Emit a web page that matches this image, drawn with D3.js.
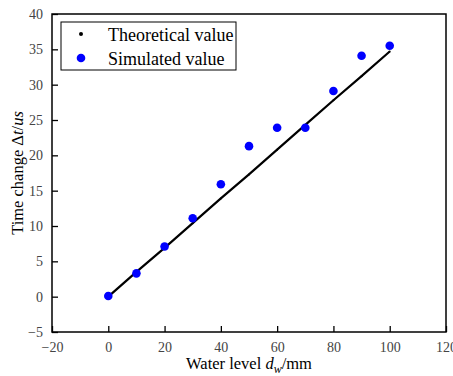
<!DOCTYPE html>
<html>
<head>
<meta charset="utf-8" />
<script src="https://d3js.org/d3.v7.min.js"></script>
<style>
  body { margin: 0; background: #fff; }
  svg text { font-family: "Liberation Serif", "Times New Roman", serif; }
</style>
</head>
<body>
<svg id="chart" width="453" height="376"></svg>
<script>
// water level (mm)
const levels = [0, 10, 20, 30, 40, 50, 60, 70, 80, 90, 100];
// theoretical time change (us)
const theoretical = [0, 3.5, 6.9, 10.4, 13.9, 17.3, 20.8, 24.3, 27.8, 31.2, 34.7];
// simulated time change (us)
const simulated = [0.1, 3.3, 7.1, 11.1, 15.9, 21.3, 23.9, 23.9, 29.1, 34.1, 35.5];

const xTicks = [-20, 0, 20, 40, 60, 80, 100, 120];
const yTicks = [-5, 0, 5, 10, 15, 20, 25, 30, 35, 40];
const legendLabels = ["Theoretical value", "Simulated value"];

const plotL = 52, plotR = 446, plotT = 14, plotB = 332;

const svg = d3.select("#chart");

const x = d3.scaleLinear().domain([-20, 120]).range([plotL, plotR]);
const y = d3.scaleLinear().domain([-5, 40]).range([plotB, plotT]);

const fmt = d => (d < 0 ? "\u2212" + Math.abs(d) : "" + d);

// axes, ticks pointing inward
const xAxis = svg.append("g")
  .attr("transform", `translate(0,${plotB})`)
  .call(d3.axisBottom(x).tickValues(xTicks).tickSize(-6).tickPadding(10).tickFormat(fmt));
const yAxis = svg.append("g")
  .attr("transform", `translate(${plotL},0)`)
  .call(d3.axisLeft(y).tickValues(yTicks).tickSize(-6).tickPadding(9).tickFormat(fmt));

[xAxis, yAxis].forEach(a => {
  a.select(".domain").remove();
  a.selectAll(".tick line").attr("stroke", "#000").attr("stroke-width", 1.3);
  a.selectAll(".tick text")
    .attr("fill", "#444")
    .style("font-size", "14px");
});

// frame
svg.append("rect")
  .attr("x", plotL).attr("y", plotT)
  .attr("width", plotR - plotL).attr("height", plotB - plotT)
  .attr("fill", "none").attr("stroke", "#000").attr("stroke-width", 1.5);

// theoretical line
const line = d3.line().x((d, i) => x(levels[i])).y(d => y(d));
svg.append("path")
  .datum(theoretical)
  .attr("d", line)
  .attr("fill", "none")
  .attr("stroke", "#000")
  .attr("stroke-width", 2.2);

svg.append("g").selectAll("circle")
  .data(theoretical).enter().append("circle")
  .attr("cx", (d, i) => x(levels[i]))
  .attr("cy", d => y(d))
  .attr("r", 1)
  .attr("fill", "#000");

// simulated points
svg.append("g").selectAll("circle")
  .data(simulated).enter().append("circle")
  .attr("cx", (d, i) => x(levels[i]))
  .attr("cy", d => y(d))
  .attr("r", 4.3)
  .attr("fill", "#0000ff");

// legend
const lg = svg.append("g");
lg.append("rect")
  .attr("x", 61).attr("y", 22).attr("width", 175).attr("height", 48)
  .attr("fill", "#fff").attr("stroke", "#000").attr("stroke-width", 1);
lg.append("circle").attr("cx", 81).attr("cy", 34).attr("r", 2).attr("fill", "#000");
lg.append("circle").attr("cx", 81).attr("cy", 58).attr("r", 4.3).attr("fill", "#0000ff");
legendLabels.forEach((t, i) => {
  lg.append("text")
    .attr("x", 108).attr("y", 35 + i * 24)
    .attr("dy", "0.35em")
    .style("font-size", "18px")
    .attr("fill", "#000")
    .text(t);
});

// axis titles
const xt = svg.append("text")
  .attr("x", (plotL + plotR) / 2).attr("y", 369)
  .attr("text-anchor", "middle")
  .style("font-size", "16.5px");
xt.append("tspan").text("Water level ");
xt.append("tspan").attr("font-style", "italic").text("d");
xt.append("tspan").attr("font-style", "italic").attr("dy", 4).style("font-size", "12px").text("w");
xt.append("tspan").attr("dy", -4).text("/mm");

const yt = svg.append("text")
  .attr("transform", `translate(23,${(plotT + plotB) / 2}) rotate(-90)`)
  .attr("text-anchor", "middle")
  .style("font-size", "16.5px");
yt.append("tspan").text("Time change \u0394");
yt.append("tspan").attr("font-style", "italic").text("t");
yt.append("tspan").text("/");
yt.append("tspan").attr("font-style", "italic").text("us");
</script>
</body>
</html>
